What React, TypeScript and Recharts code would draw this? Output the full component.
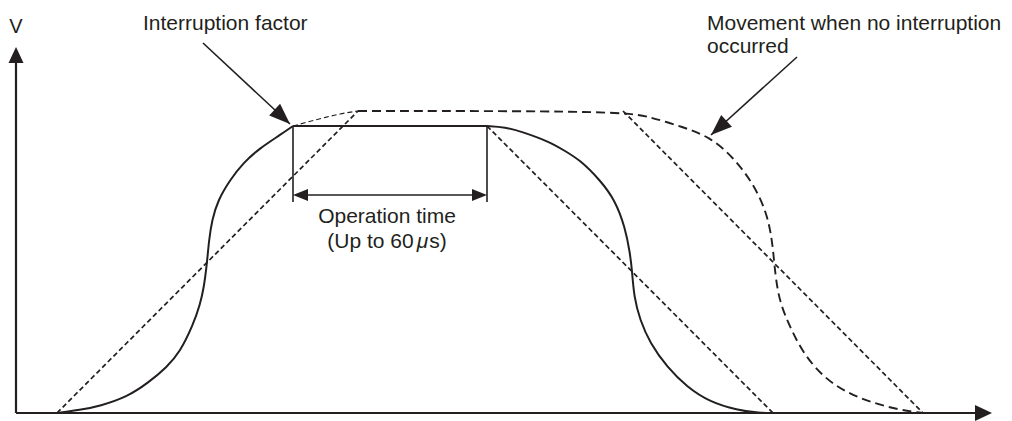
import React from "react";
import { LineChart, Line, XAxis, YAxis, ReferenceLine, ReferenceDot } from "recharts";

// t = time, v = speed (both, same unit on both axes)
const actualRise = [
  { t: 41, v: 0 }, { t: 64, v: 3 }, { t: 84, v: 7 }, { t: 111, v: 16 }, { t: 132, v: 30 },
  { t: 151, v: 46 }, { t: 164, v: 61 }, { t: 177, v: 88 }, { t: 184, v: 108 }, { t: 188, v: 126 },
  { t: 191, v: 150 }, { t: 193, v: 173 }, { t: 196, v: 193 }, { t: 202, v: 213 }, { t: 214, v: 233 },
  { t: 227, v: 250 }, { t: 244, v: 265 }, { t: 264, v: 278 }, { t: 277, v: 287 },
];
const actualHold = [{ t: 277, v: 287 }, { t: 471, v: 287 }];
const actualFall = [
  { t: 471, v: 287 }, { t: 489, v: 286 }, { t: 507, v: 281 }, { t: 534, v: 271 }, { t: 549, v: 262 },
  { t: 564, v: 253 }, { t: 584, v: 233 }, { t: 599, v: 213 }, { t: 609, v: 186 }, { t: 614, v: 160 },
  { t: 616, v: 143 }, { t: 618, v: 116 }, { t: 624, v: 93 }, { t: 634, v: 70 }, { t: 651, v: 46 },
  { t: 671, v: 26 }, { t: 694, v: 11 }, { t: 721, v: 3 }, { t: 744, v: 0 }, { t: 757, v: 0 },
];

const uninterruptedArc = [
  { t: 277, v: 287 }, { t: 307, v: 295 }, { t: 324, v: 299 }, { t: 342, v: 302 },
];

const uninterruptedCurve = [
  { t: 342, v: 302 }, { t: 607, v: 302 }, { t: 634, v: 296 }, { t: 667, v: 286 }, { t: 694, v: 276 },
  { t: 717, v: 256 }, { t: 737, v: 230 }, { t: 751, v: 200 }, { t: 756, v: 173 }, { t: 758, v: 153 },
  { t: 760, v: 133 }, { t: 764, v: 110 }, { t: 774, v: 86 }, { t: 787, v: 60 }, { t: 807, v: 36 },
  { t: 831, v: 20 }, { t: 857, v: 10 }, { t: 884, v: 3 }, { t: 907, v: 0 },
];

const trapezoidRise = [{ t: 41, v: 0 }, { t: 342, v: 302 }];
const trapezoidFall = [{ t: 607, v: 302 }, { t: 907, v: 0 }];
const interruptedRamp = [{ t: 471, v: 287 }, { t: 757, v: 0 }];

const opStart = 277;
const opEnd = 471;
const opTop = 287;
const opBottom = 211;
const opArrowV = 218;

const pointers = [
  { from: { t: 187, v: 370 }, to: { t: 274, v: 289 } },
  { from: { t: 781, v: 356 }, to: { t: 695, v: 278 } },
];

const labels = [
  { t: 0, v: 380, text: "V", anchor: "middle", size: 20 },
  { t: 127, v: 383, text: "Interruption factor", anchor: "start", size: 21 },
  { t: 691, v: 383, text: "Movement when no interruption", anchor: "start", size: 21 },
  { t: 691, v: 360, text: "occurred", anchor: "start", size: 21 },
  { t: 371, v: 190, text: "Operation time", anchor: "middle", size: 21 },
];

const INK = "#231f20";
const FONT = "'Liberation Sans', Arial, sans-serif";

function arrowHead(angleDeg: number, len: number, w: number) {
  return (props: any) => {
    const { cx, cy } = props;
    const a = (angleDeg * Math.PI) / 180;
    const dx = Math.cos(a);
    const dy = Math.sin(a);
    const bx = cx - dx * len;
    const by = cy - dy * len;
    const px = -dy * (w / 2);
    const py = dx * (w / 2);
    return (
      <polygon
        points={`${cx},${cy} ${bx + px},${by + py} ${bx - px},${by - py}`}
        fill={INK}
      />
    );
  };
}

function pointerAngle(p: { from: { t: number; v: number }; to: { t: number; v: number } }) {
  return (Math.atan2(-(p.to.v - p.from.v), p.to.t - p.from.t) * 180) / Math.PI;
}

export default function App() {
  return (
    <div style={{ position: "absolute", left: 0, top: 0, width: 1012, height: 421, background: "#fff" }}>
      <LineChart width={1012} height={421} margin={{ top: 0, right: 0, bottom: 8, left: 16 }}>
        <XAxis type="number" dataKey="t" domain={[0, 996]} hide allowDataOverflow />
        <YAxis type="number" dataKey="v" domain={[0, 413]} hide allowDataOverflow />

        {/* axes */}
        <ReferenceLine segment={[{ x: 0, y: 0 }, { x: 962, y: 0 }]} stroke={INK} strokeWidth={2.2} ifOverflow="visible" />
        <ReferenceLine segment={[{ x: 0, y: 0 }, { x: 0, y: 352 }]} stroke={INK} strokeWidth={2.2} ifOverflow="visible" />
        <ReferenceDot x={976} y={0} ifOverflow="visible" shape={arrowHead(0, 17, 16)} />
        <ReferenceDot x={0} y={366} ifOverflow="visible" shape={arrowHead(-90, 16, 15)} />

        <Line data={trapezoidRise} dataKey="v" type="linear" stroke={INK} strokeWidth={1.7} strokeDasharray="5 3" dot={false} activeDot={false} isAnimationActive={false} />
        <Line data={trapezoidFall} dataKey="v" type="linear" stroke={INK} strokeWidth={1.7} strokeDasharray="5 3" dot={false} activeDot={false} isAnimationActive={false} />
        <Line data={interruptedRamp} dataKey="v" type="linear" stroke={INK} strokeWidth={1.7} strokeDasharray="5 3" dot={false} activeDot={false} isAnimationActive={false} />
        <Line data={uninterruptedArc} dataKey="v" type="monotone" stroke={INK} strokeWidth={1.1} strokeDasharray="5 3" dot={false} activeDot={false} isAnimationActive={false} />
        <Line data={uninterruptedCurve} dataKey="v" type="basis" stroke={INK} strokeWidth={1.9} strokeDasharray="9 5" dot={false} activeDot={false} isAnimationActive={false} />
        <Line data={actualRise} dataKey="v" type="basis" stroke={INK} strokeWidth={2} dot={false} activeDot={false} isAnimationActive={false} />
        <Line data={actualHold} dataKey="v" type="linear" stroke={INK} strokeWidth={2} dot={false} activeDot={false} isAnimationActive={false} />
        <Line data={actualFall} dataKey="v" type="basis" stroke={INK} strokeWidth={2} dot={false} activeDot={false} isAnimationActive={false} />

        {/* operation time marker */}
        <ReferenceLine segment={[{ x: opStart, y: opTop }, { x: opStart, y: opBottom }]} stroke={INK} strokeWidth={1.6} ifOverflow="visible" />
        <ReferenceLine segment={[{ x: opEnd, y: opTop }, { x: opEnd, y: opBottom }]} stroke={INK} strokeWidth={1.6} ifOverflow="visible" />
        <ReferenceLine segment={[{ x: opStart + 6, y: opArrowV }, { x: opEnd - 6, y: opArrowV }]} stroke={INK} strokeWidth={1.6} ifOverflow="visible" />
        <ReferenceDot x={opStart} y={opArrowV} ifOverflow="visible" shape={arrowHead(180, 15, 12)} />
        <ReferenceDot x={opEnd} y={opArrowV} ifOverflow="visible" shape={arrowHead(0, 15, 12)} />

        {/* pointer arrows */}
        {pointers.map((p, i) => (
          <ReferenceLine key={`pl${i}`} segment={[{ x: p.from.t, y: p.from.v }, { x: p.to.t, y: p.to.v }]} stroke={INK} strokeWidth={1.6} ifOverflow="visible" />
        ))}
        {pointers.map((p, i) => (
          <ReferenceDot key={`ph${i}`} x={p.to.t} y={p.to.v} ifOverflow="visible" shape={arrowHead(pointerAngle(p), 21, 16)} />
        ))}

        {labels.map((l, i) => (
          <ReferenceDot
            key={`lb${i}`}
            x={l.t}
            y={l.v}
            ifOverflow="visible"
            shape={(props: any) => (
              <text x={props.cx} y={props.cy} textAnchor={l.anchor as any} fontFamily={FONT} fontSize={l.size} fill={INK}>
                {l.text}
              </text>
            )}
          />
        ))}
        <ReferenceDot
          x={371}
          y={165}
          ifOverflow="visible"
          shape={(props: any) => (
            <text x={props.cx} y={props.cy} textAnchor="middle" fontFamily={FONT} fontSize={21} fill={INK}>
              (Up to 60<tspan dx={3} fontStyle="italic">μ</tspan><tspan dx={1}>s)</tspan>
            </text>
          )}
        />
      </LineChart>
    </div>
  );
}
